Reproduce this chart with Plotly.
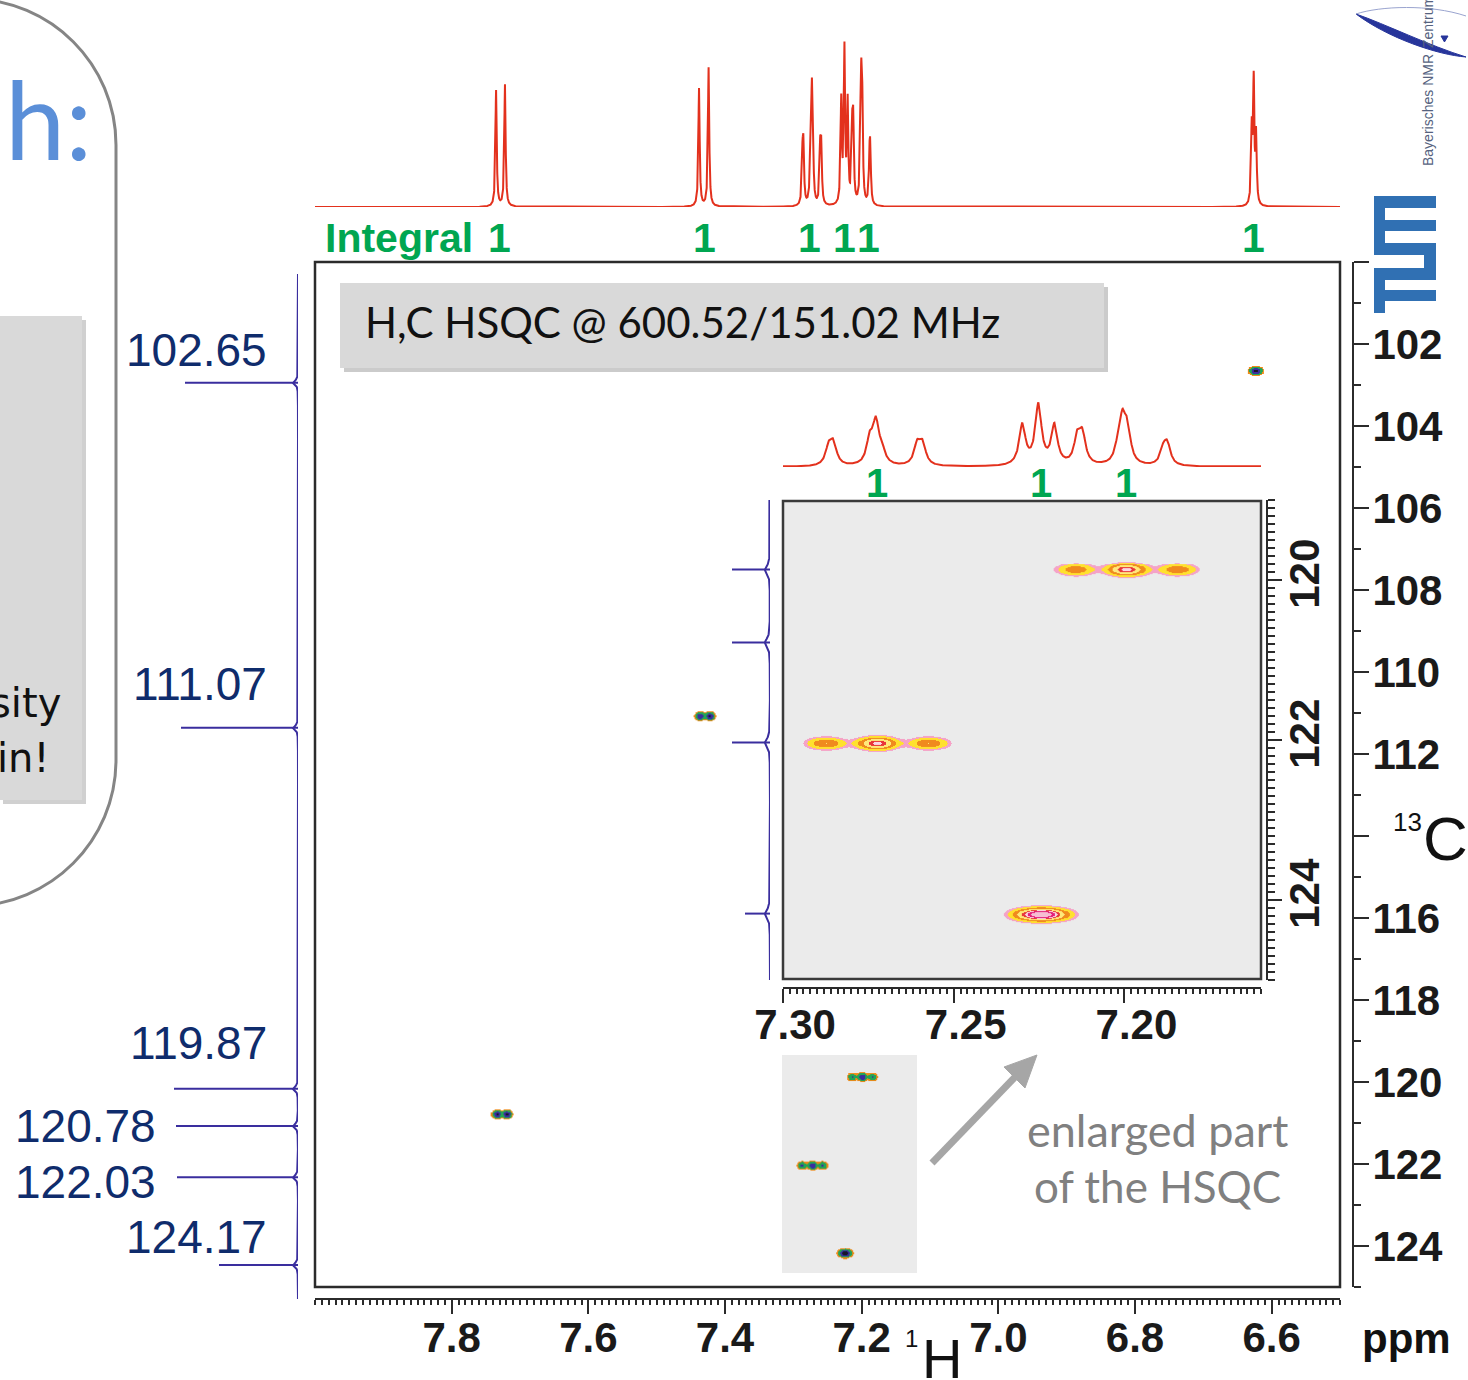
import numpy as np
import plotly.graph_objects as go

W, H = 1468, 1380

# ---------------------------------------------------------------- data
# 1H spectrum: line positions (ppm) and line amplitudes
h_lines = [7.7350, 7.7220, 7.4380, 7.4240,
           7.2866, 7.2852, 7.2746, 7.2728, 7.2710, 7.2607, 7.2591,
           7.2299, 7.2252, 7.2205, 7.2138, 7.2123,
           7.2020, 7.2006, 7.1991, 7.1886, 7.1874,
           6.6292, 6.6263, 6.6228]
h_amps = [116, 122, 118, 139,
          45, 53, 60, 103, 31, 52, 52,
          103, 153, 100, 65, 72,
          30, 106, 82, 38, 49,
          73, 121, 68]
h_fwhm = 0.0022

# integrals of the 1H multiplets (label positions in ppm)
integral_ppm = [7.7293, 7.4294, 7.2758, 7.2250, 7.1905, 6.6262]
integral_val = [1, 1, 1, 1, 1, 1]
inset_integral_ppm = [7.2724, 7.2243, 7.1994]
inset_integral_val = [1, 1, 1]

# HSQC cross peaks: 13C shift, 1H multiplet components, weights, intensity
c_shifts = [102.65, 111.07, 119.87, 120.78, 122.03, 124.17]
cross_h = [[6.6235], [7.4365, 7.4225], [7.2144, 7.1995, 7.1846],
           [7.7335, 7.7195], [7.2875, 7.2725, 7.2575], [7.2245]]
cross_w = [[1.0], [0.85, 1.0], [0.45, 1.0, 0.45],
           [0.9, 1.0], [0.5, 1.0, 0.5], [1.0]]
cross_int = [0.75, 0.70, 0.60, 0.75, 0.60, 1.0]
cross_sigma_h = [0.0045, 0.0035, 0.0035, 0.0035, 0.0035, 0.0045]
sigma_c = 0.048
c_proj_amp = [5, 5, 5, 5, 5, 5]

# axis ticks
h_major = [round(6.5 + 0.1 * i, 1) for i in range(16)]
h_labelled = [7.8, 7.6, 7.4, 7.2, 7.0, 6.8, 6.6]
h_minor = [round(6.5 + 0.01 * i, 2) for i in range(151)]
c_major = list(range(100, 126, 2))
c_labelled = [102, 104, 106, 108, 110, 112, 116, 118, 120, 122, 124]
c_minor = list(range(101, 126, 2))

inset_h_major = [round(7.16 + 0.01 * i, 2) for i in range(15)]
inset_h_labelled = [7.30, 7.25, 7.20]
inset_h_minor = [round(7.16 + 0.002 * i, 3) for i in range(71)]
inset_c_major = [119 + 0.5 * i for i in range(13)]
inset_c_labelled = [120, 122, 124]
inset_c_minor = [round(119 + 0.1 * i, 1) for i in range(61)]


# ---------------------------------------------------------------- helpers
def px(x):
    return x / W


def py(y):
    return 1 - y / H


def lorentz(grid, centres, amps, fwhm):
    out = np.zeros_like(grid)
    for c, a in zip(centres, amps):
        out += a / (1 + (2 * (grid - c) / fwhm) ** 2)
    return out


def stepped(bounds, colors):
    scale = []
    for i, col in enumerate(colors):
        scale.append([bounds[i], col])
        scale.append([bounds[i + 1], col])
    return scale


def cross_peak(k, dh, dc):
    hs = cross_h[k]
    hgrid = np.arange(min(hs) - 0.03, max(hs) + 0.03, dh)
    cgrid = np.arange(c_shifts[k] - 0.35, c_shifts[k] + 0.35, dc)
    HH, CC = np.meshgrid(hgrid, cgrid)
    z = np.zeros_like(HH)
    for h0, w in zip(hs, cross_w[k]):
        z += w * np.exp(-(HH - h0) ** 2 / (2 * cross_sigma_h[k] ** 2))
    z *= cross_int[k] * np.exp(-(CC - c_shifts[k]) ** 2 / (2 * sigma_c ** 2))
    return hgrid, cgrid, np.clip(z, 0, 0.999)


def pth(points, close=True):
    s = ""
    for cmd, pts in points:
        s += cmd + " " + " ".join(f"{px(x):.5f},{py(y):.5f}" for x, y in pts) + " "
    return s + ("Z" if close else "")


RED = "#e3311d"
GREEN = "#00a651"
NAVY = "#0f2c6c"
VIOLET = "#3a2e9e"
AX = "#2b2b2b"
ARIAL = "Liberation Sans, Arial, sans-serif"
CAL = "Lato, Open Sans, sans-serif"

fig = go.Figure()

# ---------------------------------------------------------------- 1D traces
h_grid = np.linspace(6.5, 8.0, 15001)
spec = lorentz(h_grid, h_lines, h_amps, h_fwhm)
fig.add_trace(go.Scatter(x=h_grid, y=spec, xaxis="x2", yaxis="y2", mode="lines",
                         line=dict(color=RED, width=2), hoverinfo="skip"))
fig.add_trace(go.Scatter(x=h_grid, y=spec, xaxis="x5", yaxis="y5", mode="lines",
                         line=dict(color=RED, width=2), hoverinfo="skip"))

c_grid = np.linspace(100, 125, 2501)
c_proj = lorentz(c_grid, c_shifts, c_proj_amp, 0.12)
fig.add_trace(go.Scatter(x=c_proj, y=c_grid, xaxis="x3", yaxis="y3", mode="lines",
                         line=dict(color=VIOLET, width=2), hoverinfo="skip"))
fig.add_trace(go.Scatter(x=c_proj, y=c_grid, xaxis="x6", yaxis="y6", mode="lines",
                         line=dict(color=VIOLET, width=2), hoverinfo="skip"))

# ---------------------------------------------------------------- 2D cross peaks
main_scale = stepped([0, 0.02, 0.07, 0.26, 0.62, 1.0],
                     ["rgba(0,0,0,0)", "#ef8a17", "#22a456", "#3b2d9e", "#15152a"])
inset_scale = stepped([0, 0.05, 0.09, 0.18, 0.30, 0.45, 0.55, 0.65, 0.80, 1.0],
                      ["rgba(0,0,0,0)", "#f5a3c7", "#ffe12e", "#f08a1e", "#ffe97a",
                       "#e8363a", "#fbd5e2", "#e31e79", "#f6bdd3"])
for k in range(len(c_shifts)):
    hg, cg, z = cross_peak(k, 0.0008, 0.015)
    fig.add_trace(go.Heatmap(x=hg, y=cg, z=z, xaxis="x", yaxis="y", zmin=0, zmax=1,
                             colorscale=main_scale, zsmooth="best", showscale=False,
                             hoverinfo="skip"))
    if 7.16 <= np.mean(cross_h[k]) <= 7.30 and 119 <= c_shifts[k] <= 125:
        hg, cg, z = cross_peak(k, 0.0003, 0.0125)
        fig.add_trace(go.Heatmap(x=hg, y=cg, z=z, xaxis="x4", yaxis="y4", zmin=0, zmax=1,
                                 colorscale=inset_scale, zsmooth="best", showscale=False,
                                 hoverinfo="skip"))

# ---------------------------------------------------------------- axes
hidden = dict(visible=False, fixedrange=True, showgrid=False, zeroline=False, automargin=False)
tickfont = dict(family=ARIAL, size=42, color="#1a1a1a", weight="bold")


def ruler(vals, labelled, fmt, minor_vals, ticklen, minor_len, **kw):
    d = dict(tickmode="array", tickvals=vals,
             ticktext=[fmt.format(v) if any(abs(v - l) < 1e-6 for l in labelled) else "" for v in vals],
             ticks="outside", ticklen=ticklen, tickwidth=2, tickcolor=AX,
             showline=True, linecolor=AX, linewidth=2, automargin=False,
             showgrid=False, zeroline=False, fixedrange=True, tickfont=tickfont,
             minor=dict(tickmode="array", tickvals=minor_vals, ticks="outside",
                        ticklen=minor_len, tickwidth=1.5, tickcolor=AX, showgrid=False))
    d.update(kw)
    return d


fig.update_layout(
    width=W, height=H, margin=dict(l=0, r=0, t=0, b=0, autoexpand=False),
    paper_bgcolor="white", plot_bgcolor="rgba(0,0,0,0)", showlegend=False,
    xaxis=ruler(h_major, h_labelled, "{:.1f}", h_minor, 14, 5,
                domain=[px(315), px(1340)], range=[8.0, 6.5], anchor="free", position=py(1299),
                ticklabelstandoff=-12),
    yaxis=ruler(c_major, c_labelled, "{:d}", c_minor, 15, 7,
                domain=[py(1287), py(262)], range=[125, 100], anchor="free",
                position=px(1353), side="right", ticklabelstandoff=-5),
    xaxis2=dict(hidden, domain=[px(315), px(1340)], range=[8.0, 6.5], anchor="y2"),
    yaxis2=dict(hidden, domain=[py(207), py(27)], range=[0, 180], anchor="x2"),
    xaxis3=dict(hidden, domain=[px(283), px(298)], range=[15, 0], anchor="y3"),
    yaxis3=dict(hidden, domain=[py(1299), py(274)], range=[125, 100], anchor="x3"),
    xaxis4=ruler(inset_h_major, inset_h_labelled, "{:.2f}", inset_h_minor, 14, 5,
                 domain=[px(783), px(1261)], range=[7.30, 7.16], anchor="free",
                 position=py(988), ticklabelstandoff=-14, ticklabelshift=-12),
    yaxis4=ruler(inset_c_major, inset_c_labelled, "{:.0f}", inset_c_minor, 14, 7,
                 domain=[py(980), py(500)], range=[125, 119], anchor="free",
                 position=px(1267), side="right", tickangle=-90, ticklabelstandoff=-13),
    xaxis5=dict(hidden, domain=[px(783), px(1261)], range=[7.30, 7.16], anchor="y5"),
    yaxis5=dict(hidden, domain=[py(467), py(387)], range=[0, 205], anchor="x5"),
    xaxis6=dict(hidden, domain=[px(755), px(770)], range=[15, 0], anchor="y6"),
    yaxis6=dict(hidden, domain=[py(980), py(500)], range=[125, 119], anchor="x6"),
)

# ---------------------------------------------------------------- shapes
shapes = []


def rect(x0, y0, x1, y1, fill=None, line=None, lw=0, layer="below", opacity=1):
    shapes.append(dict(type="rect", xref="paper", yref="paper",
                       x0=px(x0), x1=px(x1), y0=py(y1), y1=py(y0),
                       fillcolor=fill or "rgba(0,0,0,0)",
                       line=dict(color=line or "rgba(0,0,0,0)", width=lw),
                       layer=layer, opacity=opacity))


# rounded slide panel on the left
k = 0.5523 * 146
shapes.append(dict(type="path", xref="paper", yref="paper", layer="below",
                   path=pth([("M", [(-30, -1)]),
                             ("C", [(-30 + k, -1), (116, 145 - k), (116, 145)]),
                             ("L", [(116, 760)]),
                             ("C", [(116, 760 + k), (-30 + k, 906), (-30, 906)])], close=False),
                   line=dict(color="#858585", width=3)))
rect(3, 320, 86, 804, fill="#b0b0b0", opacity=0.6)
rect(0, 316, 82, 800, fill="#d9d9d9")

# title box with shadow
rect(344, 287, 1108, 372, fill="#a8a8a8", opacity=0.6)
rect(340, 283, 1104, 368, fill="#d9d9d9")

# frames
rect(315, 262, 1340, 1287, line=AX, lw=2.5, layer="above")
rect(782, 1055, 917, 1273, fill="#ebebeb")
rect(783, 501, 1261, 979, fill="#ebebeb", line="#3a3a3a", lw=2.5)

# arrow to the enlarged view
shapes.append(dict(type="line", xref="paper", yref="paper",
                   x0=px(932), y0=py(1163), x1=px(1018), y1=py(1074),
                   line=dict(color="#a6a6a6", width=7)))
shapes.append(dict(type="path", xref="paper", yref="paper",
                   path=pth([("M", [(1037, 1055)]), ("L", [(1025, 1088)]), ("L", [(1004, 1067)])]),
                   fillcolor="#a6a6a6", line=dict(color="#a6a6a6", width=1)))

# TUM logo (rotated)
TUM = "#3070b3"
for r in [(1374, 196, 1436, 208), (1374, 196, 1385, 255), (1374, 220, 1436, 231),
          (1374, 243, 1436, 255), (1424, 243, 1436, 280), (1374, 268, 1436, 280),
          (1374, 268, 1385, 313), (1374, 290, 1436, 301)]:
    rect(*r, fill=TUM, layer="above")

# NMR centre logo swoosh
shapes.append(dict(type="path", xref="paper", yref="paper",
                   path=pth([("M", [(1356, 14)]),
                             ("C", [(1385, 24), (1430, 46), (1466, 57)]),
                             ("C", [(1438, 55), (1388, 38), (1356, 14)])]),
                   fillcolor="#27359b", line=dict(color="#27359b", width=1)))
shapes.append(dict(type="path", xref="paper", yref="paper",
                   path=pth([("M", [(1356, 14)]),
                             ("C", [(1380, 6), (1430, 4), (1466, 16)])], close=False),
                   line=dict(color="#9aa4cf", width=1)))
shapes.append(dict(type="path", xref="paper", yref="paper",
                   path=pth([("M", [(1441, 36)]), ("L", [(1448, 36)]), ("L", [(1444.5, 42)])]),
                   fillcolor="#27359b", line=dict(color="#27359b", width=1)))

# 13C label leader lines
main_leader_x0 = [185, 181, 174, 176, 177, 219]
for c, x0 in zip(c_shifts, main_leader_x0):
    shapes.append(dict(type="line", xref="paper", yref="y3", x0=px(x0), x1=px(298),
                       y0=c, y1=c, line=dict(color=VIOLET, width=2)))
inset_leader_x0 = [732, 732, 732, 745]
inset_leader_c = [119.87, 120.78, 122.03, 124.17]
for c, x0 in zip(inset_leader_c, inset_leader_x0):
    shapes.append(dict(type="line", xref="paper", yref="y6", x0=px(x0), x1=px(770),
                       y0=c, y1=c, line=dict(color=VIOLET, width=2)))

fig.update_layout(shapes=shapes)

# ---------------------------------------------------------------- text
ann = []


def text(s, x, y, size, color, family=ARIAL, xanchor="center", weight="normal", angle=0):
    ann.append(dict(text=s, x=px(x), y=py(y), xref="paper", yref="paper", showarrow=False,
                    xanchor=xanchor, yanchor="middle", textangle=angle,
                    font=dict(size=size, color=color, family=family, weight=weight)))


text("h:", 94, 118, 108, "#5b8fd8", family=CAL, xanchor="right")
text("sity", 63, 703, 40, "#111111", family="DejaVu Sans", xanchor="right")
text("in!", 52, 758, 40, "#111111", family="DejaVu Sans", xanchor="right")

text("H,C HSQC @ 600.52/151.02 MHz", 363, 322, 42, "#111111", family=CAL, xanchor="left")
text("Integral", 323, 238, 41, GREEN, weight="bold", xanchor="left")
for p, v in zip(integral_ppm, integral_val):
    ann.append(dict(text=str(v), x=p, y=py(238), xref="x2", yref="paper", showarrow=False,
                    yanchor="middle", font=dict(size=41, color=GREEN, family=ARIAL, weight="bold")))
for p, v in zip(inset_integral_ppm, inset_integral_val):
    ann.append(dict(text=str(v), x=p, y=py(483), xref="x5", yref="paper", showarrow=False,
                    yanchor="middle", font=dict(size=40, color=GREEN, family=ARIAL, weight="bold")))

# 13C shift labels
label_right = [269, 269, 269, 158, 158, 269]
label_shift = [33, 44, 46, 0, -5, 28]
for c, xr, sh in zip(c_shifts, label_right, label_shift):
    ann.append(dict(text=f"{c:.2f}", x=px(xr), y=c, xref="paper", yref="y3", showarrow=False,
                    xanchor="right", yanchor="middle", yshift=sh,
                    font=dict(size=46, color=NAVY, family=ARIAL)))

text("enlarged part", 1157, 1130, 45, "#808080", family=CAL)
text("of the HSQC", 1157, 1186, 44, "#808080", family=CAL)

text("13", 1407, 822, 26, "#111111")
text("C", 1421, 838, 62, "#111111", xanchor="left")
text("1", 912, 1338, 24, "#111111")
text("H", 920, 1358, 56, "#111111", xanchor="left")
text("ppm", 1360, 1338, 42, "#111111", weight="bold", xanchor="left")

text("Bayerisches NMR", 1428, 110, 14, "#55627e", angle=-90)
text("Zentrum", 1428, 22, 14, "#55627e", angle=-90)

fig.update_layout(annotations=ann)

fig.write_html("out.html")
